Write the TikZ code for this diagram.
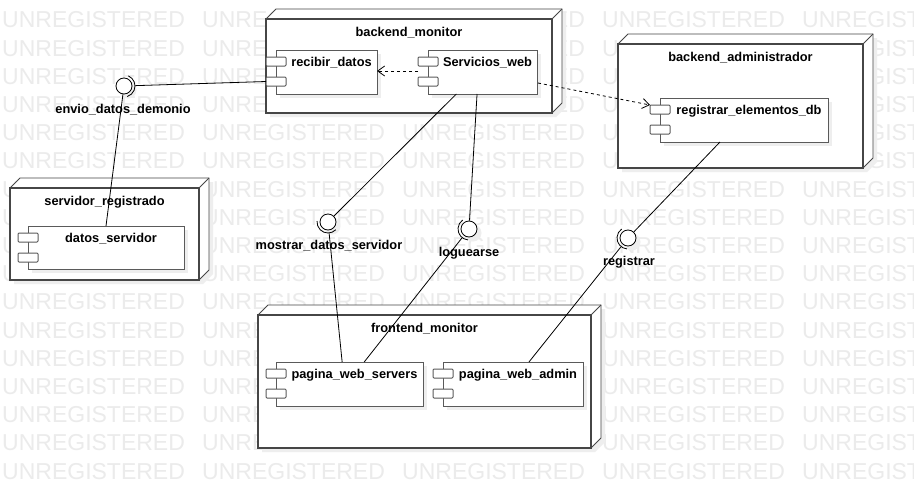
\documentclass[tikz,border=0pt]{standalone}
\usepackage{fontspec}
\setmainfont{Liberation Sans}
\usetikzlibrary{arrows.meta,calc,fit}
\definecolor{wm}{RGB}{235,235,235}
\definecolor{shd}{RGB}{238,238,238}
\definecolor{edge}{RGB}{70,70,70}
\definecolor{cedge}{RGB}{90,90,90}
\tikzset{
  front/.style={draw=edge, line width=1.5pt, fill=white, inner sep=0pt, outer sep=0pt},
  side/.style={draw=edge, line width=0.8pt, fill=white},
  comp/.style={draw=cedge, line width=1pt, fill=white, inner sep=0pt, outer sep=0pt},
  tab/.style={draw=cedge, line width=1pt, fill=white, inner sep=0pt, outer sep=0pt, rounded corners=1pt},
  lbl/.style={font=\bfseries\fontsize{12.8}{14}\selectfont, inner sep=0pt},
  wmk/.style={font=\fontsize{23}{26}\selectfont, text=wm, inner sep=0pt, anchor=west},
  ball/.style={circle, draw=black, line width=0.8pt, fill=white, minimum size=16pt, inner sep=0pt},
  sock/.style={draw=black, line width=0.8pt},
  conn/.style={draw=black, line width=0.8pt},
  dep/.style={draw=black, line width=0.8pt, dash pattern=on 3pt off 3pt, -{Straight Barb[length=7pt,width=10pt]}},
}
\newcommand\ubox[6]{%
  \fill[shd] (#2+4,#3+4) -- (#2+4,#5+4) -- (#4+4,#5+4) -- (#4+14,#5-6) -- (#4+14,#3-6) -- (#2+14,#3-6) -- cycle;
  \filldraw[side] (#2,#3) -- (#2+10,#3-10) -- (#4+10,#3-10) -- (#4+10,#5-10) -- (#4,#5) -- (#4,#3) -- cycle;
  \draw[side] (#4,#3) -- (#4+10,#3-10);
  \node[front, fit={(#2,#3) (#4,#5)}] (#1) {};
  \node[lbl] (#1-l) at ({(#2+#4)/2},#3+14) {#6};
}
\newcommand\ucomp[6]{%
  \fill[shd] (#2+4,#3+4) rectangle (#4+4,#5+4);
  \node[comp, fit={(#2,#3) (#4,#5)}] (#1) {};
  \node[tab, fit={(#2-10,#3+7) (#2+10,#3+16)}] (#1-t1) {};
  \node[tab, fit={(#2-10,#3+27) (#2+10,#3+36)}] (#1-t2) {};
  \node[lbl] (#1-l) at ({(#2+10+#4)/2},#3+13) {#6};
}
\begin{document}
\begin{tikzpicture}[x=1pt,y=-1pt]
\useasboundingbox (0,0) rectangle (914,490);
\fill[white] (0,0) rectangle (914,490);
% watermark
\begin{scope}
\clip (0,0) rectangle (914,490);
\foreach \r in {0,...,16}{
  \foreach \c in {0,...,4}{
    \node[wmk] (wm-\r-\c) at (2+200*\c, 20+28.2*\r) {UNREGISTERED};
  }
}
\end{scope}
% deployment nodes
\ubox{bm}{266}{19}{552}{113}{backend\_monitor}
\ubox{ba}{618}{44}{863}{168}{backend\_administrador}
\ubox{sr}{10}{188}{199}{280}{servidor\_registrado}
\ubox{fm}{258}{315}{591}{448}{frontend\_monitor}
% components
\ucomp{rd}{276}{50}{377}{94}{recibir\_datos}
\ucomp{sw}{428}{50}{537}{94}{Servicios\_web}
\ucomp{red}{660}{98}{828}{142}{registrar\_elementos\_db}
\ucomp{ds}{28}{226}{184}{269}{datos\_servidor}
\ucomp{pws}{276}{362}{423}{406}{pagina\_web\_servers}
\ucomp{pwa}{443}{362}{583}{406}{pagina\_web\_admin}
% interfaces
\fill[shd] (128,90) circle (8.5);
\fill[shd] (332,226) circle (8.5);
\fill[shd] (473,233) circle (8.5);
\fill[shd] (632,242) circle (8.5);
\node[ball] (ienv) at (124,86) {};
\node[ball] (imos) at (328,222) {};
\node[ball] (ilog) at (469,229) {};
\node[ball] (ireg) at (628,238) {};
\draw[sock] ($(ienv.center)+(-67:11)$) arc (-67:73:11);
\draw[sock] ($(imos.center)+(45:11)$) arc (45:185:11);
\draw[sock] ($(ilog.center)+(95:11)$) arc (95:235:11);
\draw[sock] ($(ireg.center)+(95:11)$) arc (95:235:11);
\node[lbl] (ienv-l) at (123,110) {envio\_datos\_demonio};
\node[lbl] (imos-l) at (329,246) {mostrar\_datos\_servidor};
\node[lbl] (ilog-l) at (469,253) {loguearse};
\node[lbl] (ireg-l) at (629,262) {registrar};
% connectors
\draw[conn, shorten <=3pt] (ienv) -- (rd-t2.west);
\draw[conn] (ienv) -- (ds.north);
\draw[conn] (imos) -- ($(sw.south west)!0.26!(sw.south east)$);
\draw[conn, shorten <=3pt] (imos) -- ($(pws.north west)!0.45!(pws.north east)$);
\draw[conn] (ilog) -- ($(sw.south west)!0.45!(sw.south east)$);
\draw[conn, shorten <=3pt] (ilog) -- ($(pws.north west)!0.6!(pws.north east)$);
\draw[conn] (ireg) -- ($(red.south west)!0.357!(red.south east)$);
\draw[conn, shorten <=3pt] (ireg) -- ($(pwa.north west)!0.614!(pwa.north east)$);
\draw[dep] ($(sw.west)+(-10,-1)$) -- (rd.east |- 0,71);
\draw[dep] ($(sw.south east)+(1,-11)$) -- (red-t1.north west);
\end{tikzpicture}
\end{document}
